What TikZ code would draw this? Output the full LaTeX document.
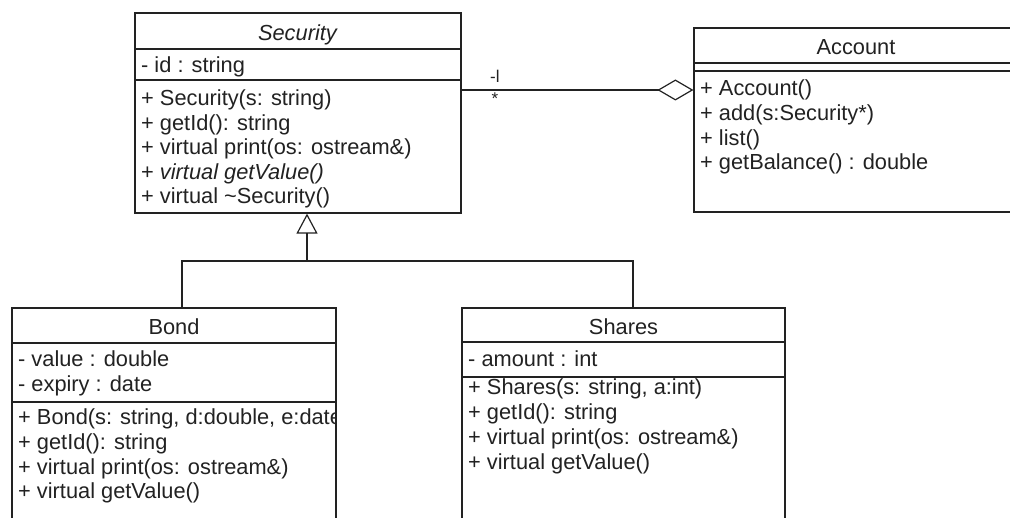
\documentclass[tikz,border=0pt]{standalone}
\usepackage{fontspec}
\setmainfont{Liberation Sans}
\usetikzlibrary{arrows.meta}
\definecolor{ink}{HTML}{222222}
\tikzset{
  classbox/.style={draw=ink, line width=1.2pt, fill=white, rectangle, inner sep=0pt},
  divider/.style={draw=ink, line width=1.2pt},
  conn/.style={draw=ink, line width=1.2pt},
  title/.style={anchor=base, inner sep=0pt, text=ink, font=\fontsize{21.8}{24}\selectfont},
  member/.style={anchor=base west, inner sep=0pt, text=ink, font=\fontsize{21.8}{24}\selectfont},
  mult/.style={inner sep=0pt, text=ink, font=\fontsize{17}{18}\selectfont},
}
\begin{document}
\begin{tikzpicture}[x=1pt, y=-1pt]
\useasboundingbox (0,0) rectangle (1010,518);

% ---- class boxes ----
\node[classbox, minimum width=326pt, minimum height=200pt] (Security) at (298,113) {};
\node[classbox, minimum width=324pt, minimum height=184pt] (Account) at (856,120) {};
\node[classbox, minimum width=324pt, minimum height=252pt] (Bond) at (174,434) {};
\node[classbox, minimum width=323pt, minimum height=252pt] (Shares) at (623.5,434) {};

% ---- Security ----
\node[title] (sec-name) at (298,40.7) {\textit{Security}};
\draw[divider] (Security.west |- 0,49) -- (Security.east |- 0,49);
\node[member] (sec-a1) at (141,73) {- id : string};
\draw[divider] (Security.west |- 0,80) -- (Security.east |- 0,80);
\node[member] (sec-m1) at (141,106) {+ Security(s: string)};
\node[member] (sec-m2) at (141,130.5) {+ getId(): string};
\node[member] (sec-m3) at (141,155) {+ virtual print(os: ostream\&)};
\node[member] (sec-m4) at (141,179.5) {+ \textit{virtual getValue()}};
\node[member] (sec-m5) at (141,204) {+ virtual \textasciitilde Security()};

% ---- Account ----
\node[title] (acc-name) at (856,55) {Account};
\draw[divider] (Account.west |- 0,63) -- (Account.east |- 0,63);
\draw[divider] (Account.west |- 0,71) -- (Account.east |- 0,71);
\node[member] (acc-m1) at (700,96) {+ Account()};
\node[member] (acc-m2) at (700,120.7) {+ add(s:Security*)};
\node[member] (acc-m3) at (700,145.4) {+ list()};
\node[member] (acc-m4) at (700,170) {+ getBalance() : double};

% ---- Bond (long signature is cut off by the box edge) ----
\begin{scope}
\clip (Bond.north west) rectangle (Bond.south east);
\node[title] (bond-name) at (174,335) {Bond};
\node[member] (bond-a1) at (18,367) {- value : double};
\node[member] (bond-a2) at (18,391.5) {- expiry : date};
\node[member] (bond-m1) at (18,425) {+ Bond(s: string, d:double, e:date)};
\node[member] (bond-m2) at (18,449.7) {+ getId(): string};
\node[member] (bond-m3) at (18,474.4) {+ virtual print(os: ostream\&)};
\node[member] (bond-m4) at (18,499) {+ virtual getValue()};
\end{scope}
\draw[divider] (Bond.west |- 0,343) -- (Bond.east |- 0,343);
\draw[divider] (Bond.west |- 0,402) -- (Bond.east |- 0,402);
\draw[classbox, fill=none] (Bond.north west) rectangle (Bond.south east);

% ---- Shares ----
\node[title] (sh-name) at (623.5,335) {Shares};
\draw[divider] (Shares.west |- 0,342) -- (Shares.east |- 0,342);
\node[member] (sh-a1) at (468,367) {- amount : int};
\draw[divider] (Shares.west |- 0,377) -- (Shares.east |- 0,377);
\node[member] (sh-m1) at (468,395) {+ Shares(s: string, a:int)};
\node[member] (sh-m2) at (468,419.7) {+ getId(): string};
\node[member] (sh-m3) at (468,444.4) {+ virtual print(os: ostream\&)};
\node[member] (sh-m4) at (468,469.1) {+ virtual getValue()};

% ---- generalisation ----
\coordinate (join) at (307,261);
\draw[conn] ([xshift=8pt]Bond.north) |- (join);
\draw[conn] ([xshift=9.5pt]Shares.north) |- (join);
\draw[conn, -{Triangle[open, length=20pt, width=21pt, line width=1.2pt]}] (join) -- ([xshift=9pt]Security.south);

% ---- aggregation ----
\draw[conn, {Diamond[open, length=36pt, width=21pt, line width=1.2pt]}-] ([yshift=30pt]Account.west) -- ([yshift=23pt]Security.east);
\node[mult, anchor=base west] (role) at (490,83) {-l};
\node[mult] (card) at (495,99) {*};
\end{tikzpicture}
\end{document}
